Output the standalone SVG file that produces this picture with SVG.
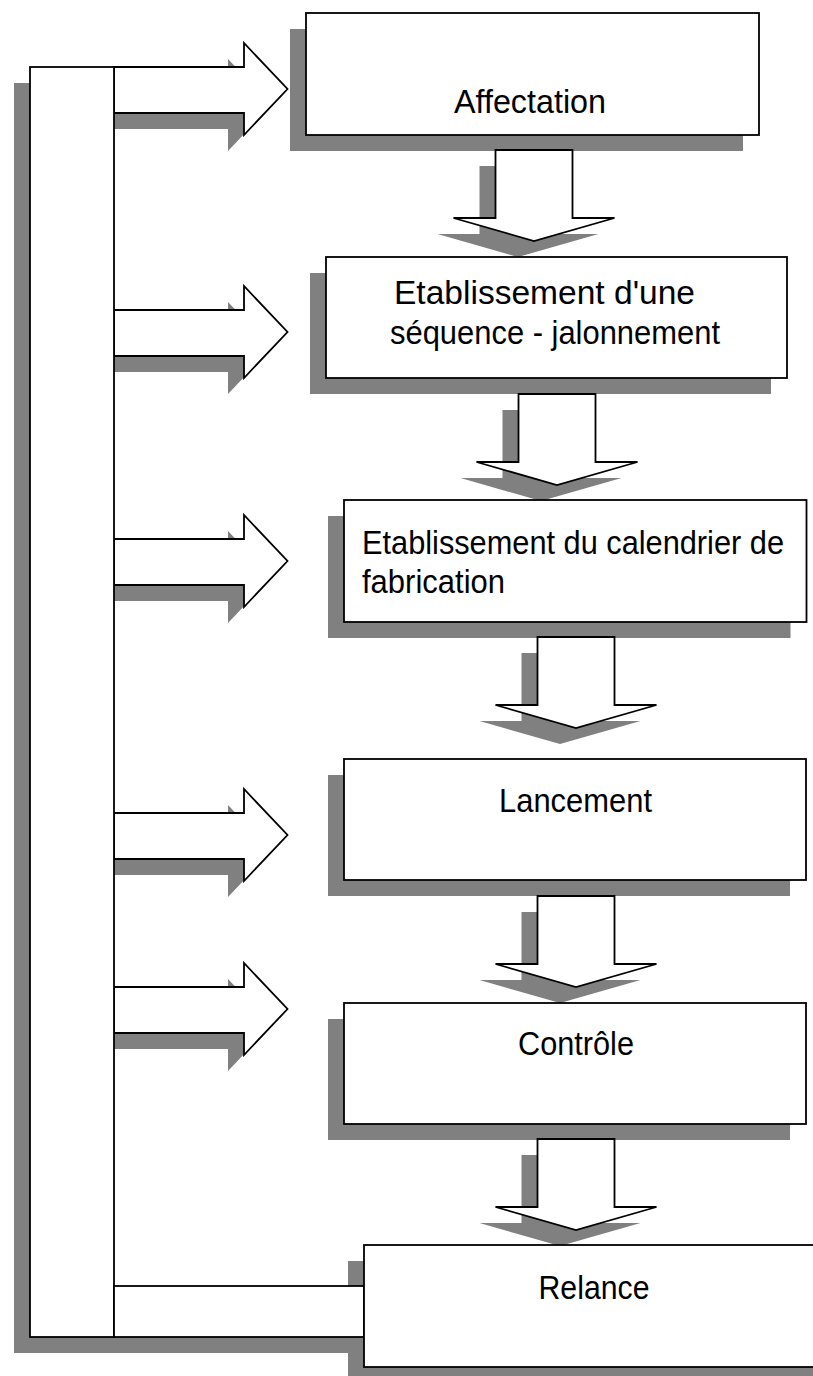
<svg xmlns="http://www.w3.org/2000/svg" xmlns:xlink="http://www.w3.org/1999/xlink" width="813" height="1376" viewBox="0 0 813 1376">
  <style>
    .shape { fill: #ffffff; stroke: #000000; stroke-width: 1.8; stroke-linejoin: miter; }
    .shadow { fill: #808080; stroke: none; }
    .label { font-family: "Liberation Sans", Arial, sans-serif; font-size: 34px; fill: #000000; }
  </style>
  <defs>
    <!-- block arrow pointing right, origin at the tip -->
    <polygon id="arrowRight" points="-173.5,-22 -43.5,-22 -43.5,-46 0,0 -43.5,46 -43.5,24 -173.5,24"/>
    <!-- block arrow pointing down, origin at the tip -->
    <polygon id="arrowDown" points="-38.5,-91 38.5,-91 38.5,-23 80.5,-23 0,0 -80.5,-23 -38.5,-23"/>
  </defs>

  <rect width="813" height="1376" fill="#ffffff"/>

  <!-- drop shadows (offset -16, +16) -->
  <g id="shadows" class="shadow">
    <rect x="14" y="83" width="84" height="1270"/>
    <rect x="98" y="1302" width="250" height="51"/>
    <use xlink:href="#arrowRight" x="271.5" y="105"/>
    <use xlink:href="#arrowRight" x="271.5" y="348"/>
    <use xlink:href="#arrowRight" x="271.5" y="577"/>
    <use xlink:href="#arrowRight" x="271.5" y="851"/>
    <use xlink:href="#arrowRight" x="271.5" y="1025"/>
    <rect x="290" y="29" width="453" height="122"/>
    <rect x="310" y="273" width="461" height="121"/>
    <rect x="328" y="516" width="462.5" height="122"/>
    <rect x="328" y="775" width="462" height="121"/>
    <rect x="328" y="1019" width="462" height="121"/>
    <rect x="348" y="1261" width="480" height="130"/>
    <use xlink:href="#arrowDown" x="518" y="257"/>
    <use xlink:href="#arrowDown" x="541" y="501"/>
    <use xlink:href="#arrowDown" x="560" y="744"/>
    <use xlink:href="#arrowDown" x="560" y="1003"/>
    <use xlink:href="#arrowDown" x="560" y="1246"/>
  </g>

  <!-- connectors: feedback bar, side arrows and flow arrows -->
  <g id="connectors" class="shape">
    <use xlink:href="#arrowRight" x="287.5" y="89"/>
    <use xlink:href="#arrowRight" x="287.5" y="332"/>
    <use xlink:href="#arrowRight" x="287.5" y="561"/>
    <use xlink:href="#arrowRight" x="287.5" y="835"/>
    <use xlink:href="#arrowRight" x="287.5" y="1009"/>
    <rect x="30" y="67" width="84" height="1270"/>
    <rect x="114" y="1286" width="250" height="51"/>
    <use xlink:href="#arrowDown" x="534" y="241"/>
    <use xlink:href="#arrowDown" x="557" y="485"/>
    <use xlink:href="#arrowDown" x="576" y="728"/>
    <use xlink:href="#arrowDown" x="576" y="987"/>
    <use xlink:href="#arrowDown" x="576" y="1230"/>
  </g>

  <g id="affectation">
    <rect class="shape" x="306" y="13" width="453" height="122"/>
    <text class="label" x="530" y="113" text-anchor="middle" textLength="152" lengthAdjust="spacingAndGlyphs">Affectation</text>
  </g>

  <g id="sequence">
    <rect class="shape" x="326" y="257" width="461" height="121"/>
    <text class="label" x="394" y="304" textLength="301" lengthAdjust="spacingAndGlyphs">Etablissement d'une</text>
    <text class="label" x="390" y="344" textLength="330" lengthAdjust="spacingAndGlyphs">séquence - jalonnement</text>
  </g>

  <g id="calendrier">
    <rect class="shape" x="344" y="500" width="462.5" height="122"/>
    <text class="label" x="362" y="554" textLength="422" lengthAdjust="spacingAndGlyphs">Etablissement du calendrier de</text>
    <text class="label" x="362" y="593" textLength="143" lengthAdjust="spacingAndGlyphs">fabrication</text>
  </g>

  <g id="lancement">
    <rect class="shape" x="344" y="759" width="462" height="121"/>
    <text class="label" x="575.5" y="812" text-anchor="middle" textLength="153" lengthAdjust="spacingAndGlyphs">Lancement</text>
  </g>

  <g id="controle">
    <rect class="shape" x="344" y="1003" width="462" height="121"/>
    <text class="label" x="576" y="1055" text-anchor="middle" textLength="116" lengthAdjust="spacingAndGlyphs">Contrôle</text>
  </g>

  <g id="relance">
    <rect class="shape" x="364" y="1245" width="470" height="122"/>
    <text class="label" x="594" y="1299" text-anchor="middle" textLength="111" lengthAdjust="spacingAndGlyphs">Relance</text>
  </g>
</svg>
